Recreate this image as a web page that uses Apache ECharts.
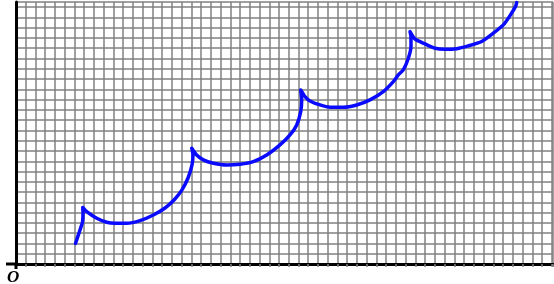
<!DOCTYPE html>
<html>
<head>
<meta charset="utf-8">
<script src="https://cdn.jsdelivr.net/npm/echarts@6/dist/echarts.min.js"></script>
<style>
html,body{margin:0;padding:0;background:#fff;}
#c{width:554px;height:284px;}
</style>
</head>
<body>
<div id="c"></div>
<script>
// Curve sample points (grid units)
var curveX = [6.11, 6.57, 6.83, 6.88, 6.85, 7.26, 8.29, 9.31, 10.16, 11.37, 12.73, 14.10, 15.30, 16.32, 17.04, 17.66, 18.07, 18.17, 18.04,
  18.55, 19.23, 20.26, 21.63, 23.00, 24.36, 25.74, 27.10, 28.13, 28.82, 29.23, 29.33, 29.23,
  29.67, 30.18, 31.21, 32.24, 33.60, 34.98, 36.34, 37.71, 38.74, 39.25, 39.76, 40.28, 40.55, 40.55, 40.45,
  40.97, 41.99, 43.02, 44.05, 45.25, 46.44, 47.81, 49.00, 50.03, 50.70, 51.30, 51.40];
var curveY = [2.00, 3.31, 4.09, 5.06, 5.50, 5.09, 4.45, 4.06, 3.96, 3.96, 4.22, 4.77, 5.45, 6.33, 7.21, 8.37, 9.64, 10.61, 11.27,
  10.61, 10.13, 9.81, 9.64, 9.71, 9.96, 10.61, 11.59, 12.56, 13.53, 14.83, 15.97, 16.94,
  16.29, 15.87, 15.48, 15.26, 15.26, 15.48, 15.97, 16.78, 17.75, 18.40, 18.89, 20.03, 21.16, 22.13, 22.62,
  21.88, 21.42, 21.00, 20.90, 20.96, 21.23, 21.65, 22.46, 23.27, 24.15, 25.10, 25.45];
var originLabel = 'O';
var xMax = 55.13, yMax = 25.5;

var chart = echarts.init(document.getElementById('c'));
var pts = curveX.map(function (x, i) { return [x, curveY[i]]; });
chart.setOption({
  animation: false,
  backgroundColor: '#fff',
  title: {
    text: originLabel, left: 2, top: 264,
    textStyle: { fontFamily: 'Liberation Serif', fontStyle: 'italic', fontWeight: 'bold', fontSize: 17, color: '#000' }
  },
  grid: { left: 16, top: 2, width: 537, height: 262 },
  xAxis: {
    type: 'value', min: 0, max: xMax, interval: 1,
    axisLine: { onZero: false, lineStyle: { color: '#000', width: 3 } },
    axisTick: { show: true, length: 3, lineStyle: { color: '#808080', width: 1.5 } },
    axisLabel: { show: false },
    splitLine: { show: true, lineStyle: { color: '#808080', width: 1.5 } }
  },
  yAxis: {
    type: 'value', min: 0, max: yMax, interval: 1,
    axisLine: { show: true, onZero: false, lineStyle: { color: '#000', width: 3 } },
    axisTick: { show: false },
    axisLabel: { show: false },
    splitLine: { show: true, lineStyle: { color: '#808080', width: 1.5 } }
  },
  series: [{
    type: 'line', data: pts, showSymbol: false, smooth: 0.2,
    lineStyle: { color: '#0a0aff', width: 3.5, cap: 'round', join: 'round' },
    z: 5
  }]
});
var o = chart.convertToPixel({ gridIndex: 0 }, [0, 0]);
chart.setOption({
  graphic: [
    { type: 'line', shape: { x1: o[0] - 10, y1: o[1], x2: o[0], y2: o[1] }, style: { stroke: '#000', lineWidth: 3 }, z: 10 },
    { type: 'line', shape: { x1: o[0], y1: o[1], x2: o[0], y2: o[1] + 5 }, style: { stroke: '#000', lineWidth: 3 }, z: 10 }
  ]
});
</script>
</body>
</html>
